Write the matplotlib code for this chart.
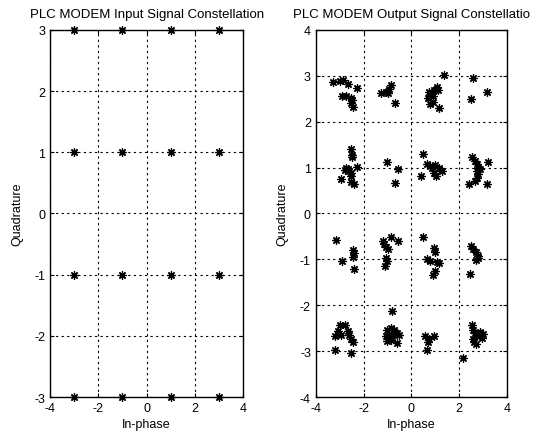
import matplotlib
matplotlib.use('Agg')
import matplotlib.pyplot as plt

plt.rcParams['font.family'] = ['Liberation Sans', 'DejaVu Sans']
plt.rcParams['axes.unicode_minus'] = False

# 入力コンステレーション (16QAM)
in_i = [-3, -1, 1, 3] * 4
in_q = [3] * 4 + [1] * 4 + [-1] * 4 + [-3] * 4

# 出力コンステレーション
out_i = [
    # (-3, 3)
    -3.28, -3.0, -2.86, -2.63, -2.28, -2.89, -2.72, -2.54, -2.49, -2.52, -2.45,
    # (-1, 3)
    -1.27, -1.07, -0.93, -0.86, -0.97, -0.69,
    # (1, 3)
    0.73, 0.87, 0.94, 1.08, 1.11, 0.91, 0.77, 0.91, 1.15, 1.38, 0.69,
    # (3, 3)
    2.57, 3.15, 2.49,
    # (-3, 1)
    -2.52, -2.49, -2.48, -2.72, -2.66, -2.59, -2.54, -2.52, -2.93, -2.54, -2.41, -2.27, -2.77,
    # (-1, 1)
    -1.0, -0.55, -0.69,
    # (1, 1)
    0.50, 0.66, 0.77, 0.87, 1.01, 0.94, 1.05, 1.29, 0.39, 1.15,
    # (3, 1)
    2.53, 2.67, 2.74, 2.78, 2.74, 2.81, 2.74, 2.67, 2.43, 3.22, 3.18, 2.88,
    # (-3, -1)
    -3.14, -2.89, -2.45, -2.42, -2.45, -2.41,
    # (-1, -1)
    -1.20, -1.13, -1.07, -0.97, -0.86, -0.55, -1.07, -1.02, -1.09, -0.83,
    # (1, -1)
    0.48, 0.94, 0.97, 0.66, 0.80, 1.08, 0.97, 0.91, 1.15,
    # (3, -1)
    2.49, 2.60, 2.70, 2.77, 2.81, 2.71, 2.46,
    # (-3, -3)
    -3.0, -2.79, -3.21, -2.93, -2.66, -2.59, -2.52, -2.45, -3.21, -2.54, -3.07,
    # (-1, -3)
    -1.0, -0.86, -0.72, -0.61, -0.51, -1.07, -0.93, -0.79, -1.02, -0.86, -0.58, -0.69,
    # (1, -3)
    0.59, 0.73, 0.94, 0.69, 0.64,
    # (3, -3)
    2.53, 2.57, 2.67, 2.88, 2.99, 2.74, 2.57, 2.63, 2.71, 2.95, 2.16,
]
out_q = [
    2.87, 2.89, 2.91, 2.81, 2.74, 2.56, 2.55, 2.51, 2.47, 2.40, 2.32,
    2.63, 2.64, 2.71, 2.80, 2.62, 2.40,
    2.65, 2.62, 2.69, 2.76, 2.69, 2.55, 2.39, 2.42, 2.29, 3.01, 2.51,
    2.96, 2.65, 2.49,
    1.40, 1.27, 1.22, 1.0, 0.96, 0.93, 0.88, 0.82, 0.76, 0.69, 0.64, 1.01, 0.95,
    1.12, 0.96, 0.66,
    1.29, 1.07, 1.04, 1.0, 1.05, 0.89, 0.82, 0.93, 0.82, 1.0,
    1.22, 1.14, 1.07, 1.0, 0.93, 0.86, 0.78, 0.71, 0.64, 1.12, 0.65, 0.96,
    -0.57, -1.03, -0.80, -0.87, -0.94, -1.20,
    -0.59, -0.67, -0.74, -0.78, -0.52, -0.59, -0.96, -1.03, -1.15, -2.12,
    -0.52, -0.76, -0.83, -0.99, -1.03, -1.05, -1.25, -1.34, -1.08,
    -0.70, -0.78, -0.85, -0.92, -0.98, -1.01, -1.32,
    -2.44, -2.44, -2.67, -2.65, -2.56, -2.65, -2.74, -2.80, -2.97, -3.04, -2.56,
    -2.54, -2.49, -2.53, -2.60, -2.65, -2.66, -2.70, -2.68, -2.78, -2.76, -2.83, -2.60,
    -2.67, -2.73, -2.67, -2.81, -2.97,
    -2.42, -2.53, -2.60, -2.58, -2.63, -2.67, -2.74, -2.81, -2.85, -2.71, -3.14,
]

fig = plt.figure(figsize=(5.37, 4.35), dpi=100)
ax1 = fig.add_axes([0.093, 0.085, 0.360, 0.844])
ax2 = fig.add_axes([0.588, 0.085, 0.356, 0.844])

mk = (8, 2, 0)  # MATLABの'*'風アスタリスク


def style(ax):
    ax.grid(True, color='black', linestyle=(0, (2, 3)), linewidth=0.8)
    ax.tick_params(direction='in', labelsize=9, length=3, color='black',
                   top=True, right=True)
    for s in ax.spines.values():
        s.set_linewidth(1.0)
        s.set_color('black')
    ax.set_xlabel('In-phase', fontsize=9, labelpad=3)
    ax.set_ylabel('Quadrature', fontsize=9, labelpad=8)


ax1.plot(in_i, in_q, linestyle='none', marker=mk, color='black',
         markersize=6, markeredgewidth=0.9, clip_on=False)
ax1.set_xlim(-4, 4)
ax1.set_ylim(-3, 3)
ax1.set_xticks([-4, -2, 0, 2, 4])
ax1.set_yticks([-3, -2, -1, 0, 1, 2, 3])
ax1.set_title('PLC MODEM Input Signal Constellation', fontsize=9.5, pad=9)
style(ax1)

ax2.plot(out_i, out_q, linestyle='none', marker=mk, color='black',
         markersize=6, markeredgewidth=0.9)
ax2.set_xlim(-4, 4)
ax2.set_ylim(-4, 4)
ax2.set_xticks([-4, -2, 0, 2, 4])
ax2.set_yticks([-4, -3, -2, -1, 0, 1, 2, 3, 4])
ax2.set_title('PLC MODEM Output Signal Constellatio', fontsize=9.5, pad=9)
style(ax2)

fig.savefig('out.png', dpi=100)
